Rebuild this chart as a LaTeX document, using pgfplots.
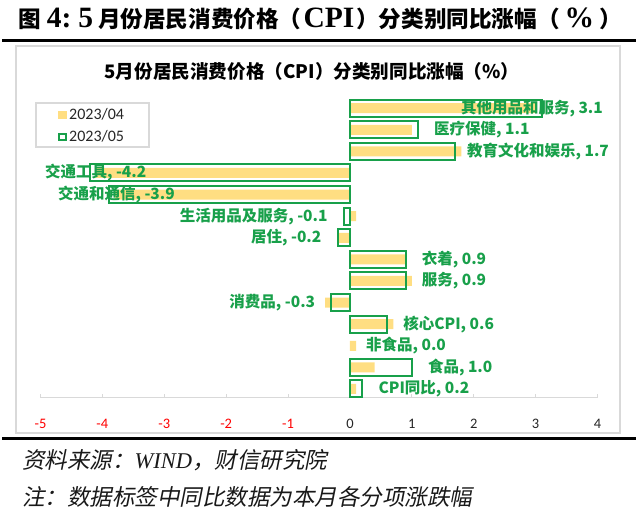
\documentclass[border=0pt]{standalone}
\usepackage{fontspec}
\usepackage{pgfplots}
\pgfplotsset{compat=1.18}
\setmainfont{Carlito}
\newfontfamily\cjk{Noto Sans CJK SC}
\newfontfamily\cjksl{Noto Sans CJK SC}[FakeSlant=0.2]
\newfontfamily\lserif{Liberation Serif}
\definecolor{ygold}{RGB}{255,222,130}
\definecolor{cgreen}{RGB}{24,160,74}
\definecolor{lgray}{RGB}{217,217,217}
\newcommand{\lab}[2]{#1, #2}
\newcommand{\hl}[1]{{\lserif\bfseries\fontsize{29.5}{30}\selectfont #1}}
\tikzset{lab/.style={font=\cjk\fontsize{15.5}{17}\selectfont\bfseries, text=cgreen, inner sep=0pt}}
\begin{document}
\begin{tikzpicture}[x=1pt,y=1pt]
\useasboundingbox (0,0) rectangle (640,512);
% header
\node[anchor=base west, inner sep=0pt, font=\cjk\bfseries\fontsize{22.6}{24}\selectfont] at (18,484)
  {图\hspace{6pt}\hl{4:}\hspace{7pt}\hl{5}\hspace{5pt}月份居民消费价格（\hspace{2pt}\hl{CPI}\hspace{2pt}）分类别同比涨幅（\hspace{5pt}\hl{\%}\hspace{5pt}）};
\draw[line width=3pt] (2,471.3) -- (636,471.3);
\draw[lgray, line width=1.5pt] (16,466) rectangle (620,79);
% chart title
\node[inner sep=0pt, font=\fontsize{18.6}{20}\selectfont] at (312,440.5)
  {{\cjk\bfseries 5月份居民消费价格（CPI）分类别同比涨幅（\%）}};
% legend
\draw[lgray, line width=1.5pt] (36,409) rectangle (149,365);
\fill[ygold] (58.3,401) rectangle (66.7,393);
\draw[cgreen, line width=2pt] (59.3,378.3) rectangle (65.7,372.3);
\node[anchor=west, inner sep=0pt, font=\fontsize{16}{18}\selectfont, text=black!85] at (69,398) {2023/04};
\node[anchor=west, inner sep=0pt, font=\fontsize{16}{18}\selectfont, text=black!85] at (69,376) {2023/05};
\begin{axis}[
  at={(40.5pt,114.4pt)}, anchor=south west,
  scale only axis, width=557pt, height=302.4pt,
  xmin=-5, xmax=4, ymin=-0.4, ymax=13.6,
  xbar, bar width=10pt,
  axis x line=bottom, axis y line=none,
  x axis line style={-, draw=lgray, line width=1.6pt},
  xtick={-5,-4,-3,-2,-1,0,1,2,3,4},
  xticklabels={{\color{red}-5},{\color{red}-4},{\color{red}-3},{\color{red}-2},{\color{red}-1},0,1,2,3,4},
  xticklabel style={font=\fontsize{14.5}{16}\selectfont, text=black!85, yshift=-18pt},
  tick align=inside, major tick length=4pt,
  tick style={draw=lgray, line width=1pt},
  clip=false,
]
% 2023/04
\addplot[xbar, bar width=10pt, bar shift=0pt, fill=ygold, draw=none] coordinates {
  (0.1,0) (0.4,1) (0.1,2) (0.7,3) (-0.4,4) (1.0,5) (0.9,6) (-0.2,7) (0.1,8)
  (-3.8,9) (-4.1,10) (1.8,11) (1.0,12) (3.0,13)};
% 2023/05 (non-food 0.0 draws no bar)
\addplot[xbar, bar width=17pt, bar shift=0pt, fill=none, draw=cgreen, line width=2pt] coordinates {
  (0.2,0) (1.0,1) (0.6,3) (-0.3,4) (0.9,5) (0.9,6) (-0.2,7) (-0.1,8)
  (-3.9,9) (-4.2,10) (1.7,11) (1.1,12) (3.1,13)};
\node[lab, anchor=west, xshift=16pt] at (axis cs:0.2,0) {\lab{CPI同比}{0.2}};
\node[lab, anchor=west, xshift=16pt] at (axis cs:1.0,1) {\lab{食品}{1.0}};
\node[lab, anchor=west, xshift=16pt] at (axis cs:0.0,2) {\lab{非食品}{0.0}};
\node[lab, anchor=west, xshift=16pt] at (axis cs:0.6,3) {\lab{核心CPI}{0.6}};
\node[lab, anchor=east, xshift=-16pt] at (axis cs:-0.3,4) {\lab{消费品}{-0.3}};
\node[lab, anchor=west, xshift=16pt] at (axis cs:0.9,5) {\lab{服务}{0.9}};
\node[lab, anchor=west, xshift=16pt] at (axis cs:0.9,6) {\lab{衣着}{0.9}};
\node[lab, anchor=east, xshift=-16pt] at (axis cs:-0.2,7) {\lab{居住}{-0.2}};
\node[lab, anchor=east, xshift=-16pt] at (axis cs:-0.1,8) {\lab{生活用品及服务}{-0.1}};
\node[lab, anchor=west] at (axis cs:-4.72,9) {\lab{交通和通信}{-3.9}};
\node[lab, anchor=west] at (axis cs:-4.93,10) {\lab{交通工具}{-4.2}};
\node[lab, anchor=west] at (axis cs:1.89,11) {\lab{教育文化和娱乐}{1.7}};
\node[lab, anchor=west, xshift=16pt] at (axis cs:1.1,12) {\lab{医疗保健}{1.1}};
\node[lab, anchor=east] at (axis cs:4.09,13) {\lab{其他用品和服务}{3.1}};
\end{axis}
\draw[line width=3pt] (2,74) -- (636,74);
% footnotes
\node[anchor=west, inner sep=0pt, font=\fontsize{22.5}{24}\selectfont, text=black!90] at (22,52)
  {{\cjksl 资料来源：}{\lserif\itshape WIND}{\cjksl ，财信研究院}};
\node[anchor=west, inner sep=0pt, font=\fontsize{22.5}{24}\selectfont, text=black!90] at (22,15)
  {{\cjksl 注：数据标签中同比数据为本月各分项涨跌幅}};
\end{tikzpicture}
\end{document}
